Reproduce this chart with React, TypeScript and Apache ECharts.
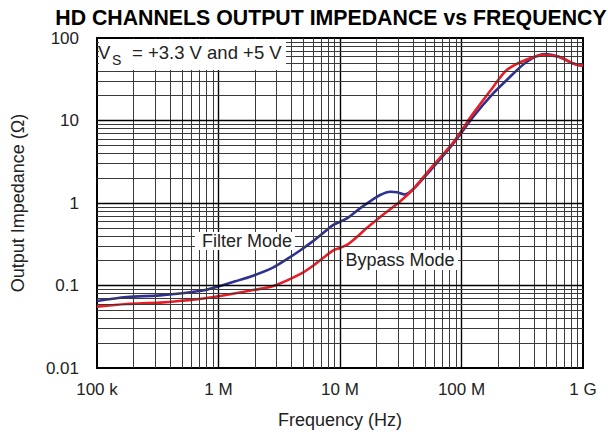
import React, { useEffect, useRef } from "react";
import * as echarts from "echarts";

const xTickLabels = ["100 k", "1 M", "10 M", "100 M", "1 G"];
const yTickLabels = ["0.01", "0.1", "1", "10", "100"];

const filterFreq = [1e5, 1.76e5, 3.3e5, 7.0e5, 1.03e6, 1.5e6, 1.93e6, 2.83e6, 3.66e6, 4.69e6, 6.0e6, 7.8e6, 8.75e6, 1.14e7, 1.46e7, 1.67e7, 2.14e7, 2.6e7, 2.95e7, 3.4e7, 4.0e7, 5.9e7, 8.6e7, 1.25e8, 1.83e8, 2.36e8, 3.45e8, 4.85e8, 6.4e8, 8.3e8, 1e9];
const filterZ = [0.065, 0.0726, 0.076, 0.0857, 0.0986, 0.117, 0.1316, 0.166, 0.209, 0.266, 0.345, 0.47, 0.54, 0.65, 0.86, 0.99, 1.25, 1.37, 1.35, 1.27, 1.47, 2.75, 5.3, 11.1, 21.4, 31, 51.6, 64, 59, 49, 46];

const bypassFreq = [1e5, 1.76e5, 3.3e5, 7.0e5, 1.03e6, 1.93e6, 2.83e6, 4.69e6, 6.2e6, 8.75e6, 1.0e7, 1.14e7, 1.3e7, 1.67e7, 2.26e7, 3.12e7, 4.0e7, 5.9e7, 8.6e7, 1.25e8, 1.83e8, 2.36e8, 3.45e8, 4.85e8, 6.4e8, 8.3e8, 1e9];
const bypassZ = [0.0555, 0.0597, 0.062, 0.0686, 0.0746, 0.088, 0.0986, 0.137, 0.18, 0.265, 0.285, 0.31, 0.36, 0.5, 0.72, 1.04, 1.47, 2.9, 5.5, 12.2, 25.7, 41, 55, 62, 59, 49, 46];

const xDecades = [1e5, 1e6, 1e7, 1e8];
const yDecades = [0.01, 0.1, 1, 10];
const minorSteps = [2, 3, 4, 5, 6, 7, 8, 9];

const FONT = '"Liberation Sans", Arial, Helvetica, sans-serif';

export default function App() {
  const ref = useRef<HTMLDivElement>(null);
  useEffect(() => {
    if (!ref.current) return;
    const chart = echarts.init(ref.current, undefined, { renderer: "svg" });

    const majorStyle = { color: "#000", width: 1.4, type: "solid" };
    const minorStyle = { color: "#3a3a3a", width: 1, type: "solid" };
    const gridLines: any[] = [];
    xDecades.forEach((d, i) => {
      if (i > 0) gridLines.push({ xAxis: d, lineStyle: majorStyle });
      minorSteps.forEach((k) => gridLines.push({ xAxis: d * k, lineStyle: minorStyle }));
    });
    yDecades.forEach((d, i) => {
      if (i > 0) gridLines.push({ yAxis: d, lineStyle: majorStyle });
      minorSteps.forEach((k) => gridLines.push({ yAxis: d * k, lineStyle: minorStyle }));
    });

    const idx = (v: number, base: number) => Math.round(Math.log10(v)) - base;

    chart.setOption({
      animation: false,
      backgroundColor: "#fff",
      textStyle: { fontFamily: FONT },
      grid: {
        left: 97,
        right: 25,
        top: 38,
        bottom: 66,
        show: true,
        borderColor: "#000",
        borderWidth: 2,
        backgroundColor: "#fff",
      },
      xAxis: {
        type: "log",
        logBase: 10,
        min: 1e5,
        max: 1e9,
        splitNumber: 4,
        axisLine: { show: false },
        axisTick: { show: false },
        splitLine: { show: false },
        axisLabel: {
          margin: 13,
          fontSize: 17,
          color: "#222",
          fontFamily: FONT,
          formatter: (v: number) => xTickLabels[idx(v, 5)] ?? "",
        },
        name: "Frequency (Hz)",
        nameLocation: "middle",
        nameGap: 43,
        nameTextStyle: { fontSize: 18, color: "#222", fontFamily: FONT },
      },
      yAxis: {
        type: "log",
        logBase: 10,
        min: 0.01,
        max: 100,
        splitNumber: 4,
        axisLine: { show: false },
        axisTick: { show: false },
        splitLine: { show: false },
        axisLabel: {
          margin: 18,
          fontSize: 17,
          color: "#222",
          fontFamily: FONT,
          formatter: (v: number) => yTickLabels[idx(v, -2)] ?? "",
        },
        name: "Output Impedance (Ω)",
        nameLocation: "middle",
        nameGap: 70,
        nameTextStyle: { fontSize: 18, color: "#222", fontFamily: FONT },
      },
      series: [
        {
          type: "line",
          name: "grid",
          data: [],
          z: 1,
          silent: true,
          markLine: {
            silent: true,
            symbol: ["none", "none"],
            label: { show: false },
            emphasis: { disabled: true },
            data: gridLines,
          },
        },
        {
          type: "line",
          name: "Filter Mode",
          z: 3,
          data: filterFreq.map((f, i) => [f, filterZ[i]]),
          showSymbol: false,
          smooth: 0.3,
          lineStyle: { color: "#2E3192", width: 2.6 },
          itemStyle: { color: "#2E3192" },
        },
        {
          type: "line",
          name: "Bypass Mode",
          z: 4,
          data: bypassFreq.map((f, i) => [f, bypassZ[i]]),
          showSymbol: false,
          smooth: 0.3,
          lineStyle: { color: "#ED1C24", width: 2.6 },
          itemStyle: { color: "#ED1C24" },
        },
      ],
      graphic: [
        {
          type: "text",
          x: 331,
          y: 18,
          z: 20,
          style: {
            text: "HD CHANNELS OUTPUT IMPEDANCE vs FREQUENCY",
            font: `bold 21.3px ${FONT}`,
            fill: "#000",
            align: "center",
            verticalAlign: "middle",
          },
        },
        { type: "rect", z: 20, shape: { x: 99, y: 39, width: 187, height: 31 }, style: { fill: "#fff" } },
        {
          type: "text",
          x: 98,
          y: 52,
          z: 21,
          style: { text: "V", font: `18.5px ${FONT}`, fill: "#222", align: "left", verticalAlign: "middle" },
        },
        {
          type: "text",
          x: 112,
          y: 60,
          z: 21,
          style: { text: "S", font: `14px ${FONT}`, fill: "#222", align: "left", verticalAlign: "middle" },
        },
        {
          type: "text",
          x: 132,
          y: 52,
          z: 21,
          style: { text: "= +3.3 V and +5 V", font: `18.5px ${FONT}`, fill: "#222", align: "left", verticalAlign: "middle" },
        },
        { type: "rect", z: 20, shape: { x: 195, y: 232, width: 100, height: 18 }, style: { fill: "#fff" } },
        {
          type: "text",
          x: 247,
          y: 241,
          z: 21,
          style: { text: "Filter Mode", font: `18px ${FONT}`, fill: "#222", align: "center", verticalAlign: "middle" },
        },
        { type: "rect", z: 20, shape: { x: 343, y: 250, width: 115, height: 20 }, style: { fill: "#fff" } },
        {
          type: "text",
          x: 400,
          y: 260,
          z: 21,
          style: { text: "Bypass Mode", font: `18px ${FONT}`, fill: "#222", align: "center", verticalAlign: "middle" },
        },
      ],
    });
    return () => chart.dispose();
  }, []);
  return (
    <div
      ref={ref}
      style={{ position: "absolute", left: 0, top: 0, width: 608, height: 434, background: "#fff" }}
    />
  );
}
